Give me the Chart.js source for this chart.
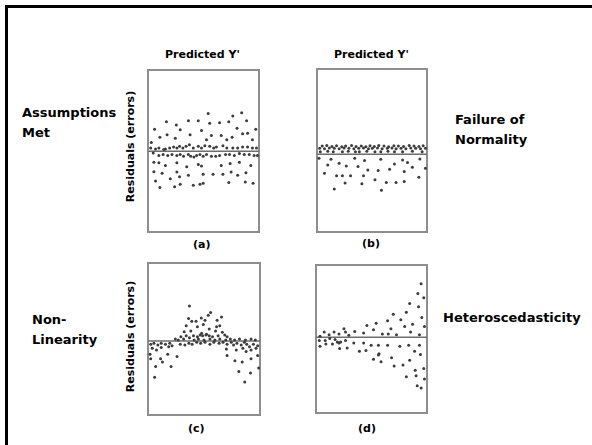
<!DOCTYPE html>
<html>
<head>
<meta charset="utf-8">
<script src="https://cdn.jsdelivr.net/npm/chart.js@4"></script>
<style>
  body { margin: 0; background: #fff; width: 592px; height: 445px; overflow: hidden; position: relative; }
  .frame { position: absolute; left: 5px; top: 5px; width: 700px; height: 600px; border-left: 3px solid #000; border-top: 3px solid #000; }
  canvas { position: absolute; }
  .lbl { position: absolute; font-family: "DejaVu Sans", sans-serif; font-weight: bold; color: #000; white-space: nowrap; }
  .big { font-size: 13px; line-height: 20px; }
  .small { font-size: 11px; }
  .rot { transform: rotate(-90deg); transform-origin: center center; }
</style>
</head>
<body>
<div class="frame"></div>

<canvas id="pa" width="119" height="170" style="left:144px;top:66px"></canvas>
<canvas id="pb" width="118" height="171" style="left:313px;top:65px"></canvas>
<canvas id="pc" width="120" height="160" style="left:144px;top:259px"></canvas>
<canvas id="pd" width="119" height="156" style="left:312px;top:261px"></canvas>

<div class="lbl small" style="left:165px;top:48px">Predicted Y'</div>
<div class="lbl small" style="left:334px;top:48px">Predicted Y'</div>

<div class="lbl big" style="left:22px;top:103px">Assumptions<br>Met</div>
<div class="lbl big" style="left:455px;top:110px">Failure of<br>Normality</div>
<div class="lbl big" style="left:32px;top:310px">Non-<br>Linearity</div>
<div class="lbl big" style="left:443px;top:308px">Heteroscedasticity</div>

<div class="lbl small rot" style="left:70px;top:140px;width:120px;text-align:center">Residuals (errors)</div>
<div class="lbl small rot" style="left:70px;top:330px;width:120px;text-align:center">Residuals (errors)</div>

<div class="lbl small" style="left:193px;top:238px">(a)</div>
<div class="lbl small" style="left:362px;top:237px">(b)</div>
<div class="lbl small" style="left:188px;top:422px">(c)</div>
<div class="lbl small" style="left:358px;top:422px">(d)</div>

<script>
// (a) assumptions met
var aX = [54.2, 84.4, 76.4, 5.9, 16.6, 25.5, 36.4, 45.3, 55.6, 64.5, 72.8, 88.8, 97.1, 29.0, 48.2, 80.2,
  10.7, 17.2, 24.6, 37.9, 57.1, 66.0, 75.8, 85.2, 89.7, 3.0, 52.7, 71.0, 94.1,
  2.4, 6.8, 9.8, 14.2, 15.7, 19.5, 23.1, 26.0, 28.4, 31.4, 34.3, 37.3, 40.8, 45.3, 48.2, 51.2, 55.6, 59.2,
  61.6, 67.5, 71.0, 76.4, 80.8, 85.2, 89.7, 94.1, 97.7,
  4.7, 9.8, 13.6, 17.8, 21.6, 26.0, 29.0, 32.0, 36.4, 38.5, 41.4, 43.8, 46.8, 49.7, 52.7, 57.1, 61.0,
  64.5, 69.9, 73.4, 77.8, 82.3, 86.7, 91.2, 95.6, 98.6,
  5.3, 9.8, 15.7, 26.0, 34.9, 45.3, 48.2, 66.0, 74.0, 82.3, 92.6, 5.3, 12.7, 26.0, 36.4, 49.7, 58.6,
  67.5, 74.9, 80.8, 88.2, 28.4, 6.8, 20.1, 40.8, 46.8, 49.7, 10.7, 24.0, 29.0, 72.8, 87.6, 94.7];
var aY = [3.83, 3.9, 3.57, 2.23, 3.0, 2.67, 3.1, 3.1, 2.83, 2.9, 3.0, 3.1, 2.23, 2.17, 2.1, 2.33,
  1.43, 1.67, 1.33, 1.67, 1.6, 1.6, 1.43, 1.77, 1.83, 0.9, 1.17, 1.17, 1.17,
  0.33, 0.23, 0.33, 0.17, 0.23, 0.33, 0.43, 0.33, 0.5, 0.33, 0.5, 0.67, 0.33, 0.5, 0.33, 0.57, 0.5, 0.33,
  0.43, 0.57, 0.33, 0.33, 0.33, 0.43, 0.43, 0.33, 0.33,
  -0.17, -0.43, -0.33, -0.43, -0.33, -0.43, -0.33, -0.5, -0.33, -0.5, -0.57, -0.43, -0.33, -0.5, -0.33, -0.5, -0.5,
  -0.43, -0.33, -0.33, -0.43, -0.23, -0.33, -0.33, -0.43, -0.43,
  -1.1, -1.17, -1.43, -1.17, -1.57, -1.33, -1.5, -1.43, -1.23, -1.1, -1.43, -2.07, -2.23, -2.1, -2.43, -2.33, -2.33,
  -2.33, -2.1, -2.43, -2.17, -2.57, -3.0, -2.77, -3.43, -3.33, -3.23, -3.67, -3.6, -3.33, -3.17, -3.1, -3.23];

// (b) failure of normality
var bX = [4.7, 8.9, 13.6, 17.8, 22.5, 26.0, 31.4, 35.5, 40.2, 44.4, 48.2, 52.1, 56.2, 60.9, 65.1, 69.9, 74.0, 78.7, 83.8, 88.2, 92.6, 96.5,
  2.4, 6.8, 11.2, 15.7, 20.1, 24.6, 29.0, 33.5, 37.9, 42.3, 46.8, 50.3, 55.0, 59.2, 63.9, 68.1, 71.9, 76.4, 80.8, 85.2, 89.7, 94.1, 98.6,
  3.0, 9.8, 14.8, 23.1, 28.4, 34.9, 38.5, 45.3, 52.7, 58.0, 64.5, 70.4, 77.8, 86.7, 95.6,
  1.8, 12.7, 34.3, 43.2, 58.0, 77.8, 93.5, 9.8, 20.1, 26.6, 37.3, 46.2, 55.6, 66.0, 70.4, 82.3, 86.7, 79.3, 98.6,
  6.8, 17.8, 23.1, 30.5, 42.3, 52.7, 63.0, 71.9, 79.3, 92.6, 25.5, 40.8, 15.7, 58.6];
var bY = [0.83, 0.9, 0.8, 0.87, 0.77, 0.83, 0.9, 0.8, 0.83, 0.77, 0.87, 0.8, 0.9, 0.83, 0.77, 0.87, 0.83, 0.8, 0.9, 0.83, 0.8, 0.87,
  0.6, 0.57, 0.63, 0.6, 0.55, 0.63, 0.6, 0.57, 0.6, 0.63, 0.55, 0.6, 0.63, 0.57, 0.6, 0.63, 0.55, 0.6, 0.57, 0.63, 0.6, 0.57, 0.6,
  0.27, 0.3, 0.25, 0.27, 0.3, 0.25, 0.27, 0.3, 0.27, 0.25, 0.3, 0.27, 0.25, 0.3, 0.27,
  -0.4, -0.5, -0.4, -0.63, -0.5, -0.57, -0.47, -1.07, -0.9, -1.17, -1.23, -1.57, -1.63, -1.5, -0.97, -0.83, -1.3, -1.73, -1.4,
  -1.9, -2.17, -2.17, -2.17, -2.17, -2.57, -2.83, -2.83, -2.73, -2.3, -2.9, -2.97, -3.5, -3.63];

// (c) non-linearity
var cX = [37.0, 36.2, 39.1, 42.9, 47.6, 53.8, 55.9, 50.9, 61.7, 65.6, 34.1, 44.1, 49.4, 54.7, 61.2, 64.1,
  32.3, 38.2, 47.9, 52.3, 60.3, 66.4, 29.4, 34.1, 37.0, 40.6, 44.1, 46.6, 48.8, 51.7, 54.7, 57.6, 62.6, 68.5, 70.6,
  24.4, 27.0, 31.8, 41.2, 45.0, 50.0, 55.3, 59.7, 64.1, 69.4, 73.5, 77.3, 81.7, 87.0, 92.0, 95.8,
  2.4, 5.3, 8.8, 11.8, 15.6, 19.4, 21.5, 28.8, 32.9, 36.5, 39.4, 43.5, 47.0, 50.9, 55.3, 58.8, 63.5, 67.0,
  70.6, 74.4, 76.4, 79.4, 83.2, 86.1, 88.2, 90.6, 94.1, 97.9,
  3.8, 7.6, 11.8, 18.5, 70.0, 78.8, 84.7, 87.6, 92.0, 96.4, 1.8, 17.6, 25.9, 70.6, 2.4, 11.2, 12.9, 77.6,
  84.1, 92.0, 97.9, 6.8, 20.6, 81.1, 91.5, 98.8, 5.9, 86.4];
var cY = [3.53, 2.27, 2.0, 2.0, 2.33, 2.6, 2.87, 2.1, 2.1, 2.43, 1.53, 1.43, 1.67, 1.2, 1.43, 1.53,
  0.93, 1.0, 0.77, 0.67, 1.0, 0.87, 0.43, 0.53, 0.33, 0.53, 0.43, 0.6, 0.53, 0.6, 0.53, 0.43, 0.53, 0.6, 0.43,
  0.2, 0.1, 0.2, 0.1, 0.2, 0.1, 0.2, 0.1, 0.2, 0.1, 0.2, 0.1, 0.2, 0.1, 0.2, 0.1,
  -0.33, -0.23, -0.4, -0.23, -0.33, -0.23, -0.47, -0.33, -0.4, -0.23, -0.33, -0.13, -0.23, -0.13, -0.33, -0.13, -0.23, -0.13,
  -0.33, -0.13, -0.4, -0.23, -0.4, -0.13, -0.33, -0.57, -0.33, -0.47,
  -0.73, -0.9, -0.67, -0.57, -0.8, -0.9, -0.73, -1.07, -0.9, -0.73, -1.33, -1.33, -1.57, -1.47, -1.8, -1.8, -2.13, -2.0,
  -2.13, -1.8, -1.47, -2.57, -2.57, -3.07, -3.23, -2.73, -3.67, -4.13];

// (d) heteroscedasticity
var dX = [94.7, 91.8, 97.1, 84.4, 92.4, 69.6, 81.4, 95.3, 64.5, 76.4, 54.2, 45.9, 87.0, 79.9, 97.7,
  25.2, 34.9, 42.9, 51.8, 67.5, 59.8, 65.1, 72.5, 85.2, 93.2, 3.6, 7.4, 11.8, 16.3, 20.7, 26.6, 29.6,
  3.0, 8.3, 12.4, 17.2, 19.2, 22.2, 26.6, 14.8, 8.9, 3.6, 20.7, 34.0, 42.9, 49.7, 56.2, 64.5, 75.5, 83.5, 93.2,
  21.3, 28.1, 39.1, 45.0, 88.8, 94.1, 56.8, 56.2, 68.1, 51.8, 58.6, 84.4, 70.4, 78.4, 97.1, 89.4, 81.4, 90.2,
  97.7, 91.2, 94.7];
var dY = [5.43, 4.43, 4.0, 3.43, 3.1, 2.33, 2.53, 2.0, 1.67, 1.77, 1.43, 1.2, 1.33, 1.1, 1.1,
  0.87, 0.6, 0.43, 0.77, 0.87, 0.33, 0.33, 0.27, 0.53, 0.27, 0.1, 0.53, 0.27, 0.53, 0.33, 0.53, 0.2,
  -0.33, -0.33, -0.13, -0.23, -0.47, -0.47, -0.33, -0.67, -0.67, -0.9, -0.57, -0.57, -0.57, -0.8, -0.8, -0.8, -0.9, -0.8, -0.8,
  -1.13, -1.07, -1.4, -1.33, -1.4, -1.73, -1.67, -1.8, -2.07, -2.23, -2.47, -2.33, -2.9, -2.8, -3.17, -3.33, -4.0, -3.9,
  -4.23, -4.9, -5.13];

// box outline + zero residual line
var boxPlugin = {
  id: 'box',
  beforeDatasetsDraw(chart) {
    const { ctx, chartArea } = chart;
    const y0 = chart.scales.y.getPixelForValue(0);
    ctx.save();
    ctx.strokeStyle = '#8e8e8e';
    ctx.lineWidth = 2;
    ctx.strokeRect(chartArea.left, chartArea.top, chartArea.right - chartArea.left, chartArea.bottom - chartArea.top);
    ctx.strokeStyle = '#6e6e6e';
    ctx.lineWidth = 1.6;
    ctx.beginPath();
    ctx.moveTo(chartArea.left, y0);
    ctx.lineTo(chartArea.right, y0);
    ctx.stroke();
    ctx.restore();
  }
};

function makePanel(id, xs, ys, yMin, yMax) {
  var pts = xs.map(function (x, i) { return { x: x, y: ys[i] }; });
  return new Chart(document.getElementById(id), {
    type: 'scatter',
    data: { datasets: [{ data: pts, backgroundColor: '#3c3c3c', borderWidth: 0, pointRadius: 1.5, clip: 4 }] },
    options: {
      responsive: false,
      animation: false,
      layout: { padding: 3 },
      plugins: { legend: { display: false }, tooltip: { enabled: false } },
      scales: {
        x: { type: 'linear', display: false, min: 0, max: 100 },
        y: { type: 'linear', display: false, min: yMin, max: yMax }
      }
    },
    plugins: [boxPlugin]
  });
}

makePanel('pa', aX, aY, -8.17, 8.23);
makePanel('pb', bX, bY, -7.83, 8.6);
makePanel('pc', cX, cY, -7.47, 7.87);
makePanel('pd', dX, dY, -7.67, 7.33);
</script>
</body>
</html>
